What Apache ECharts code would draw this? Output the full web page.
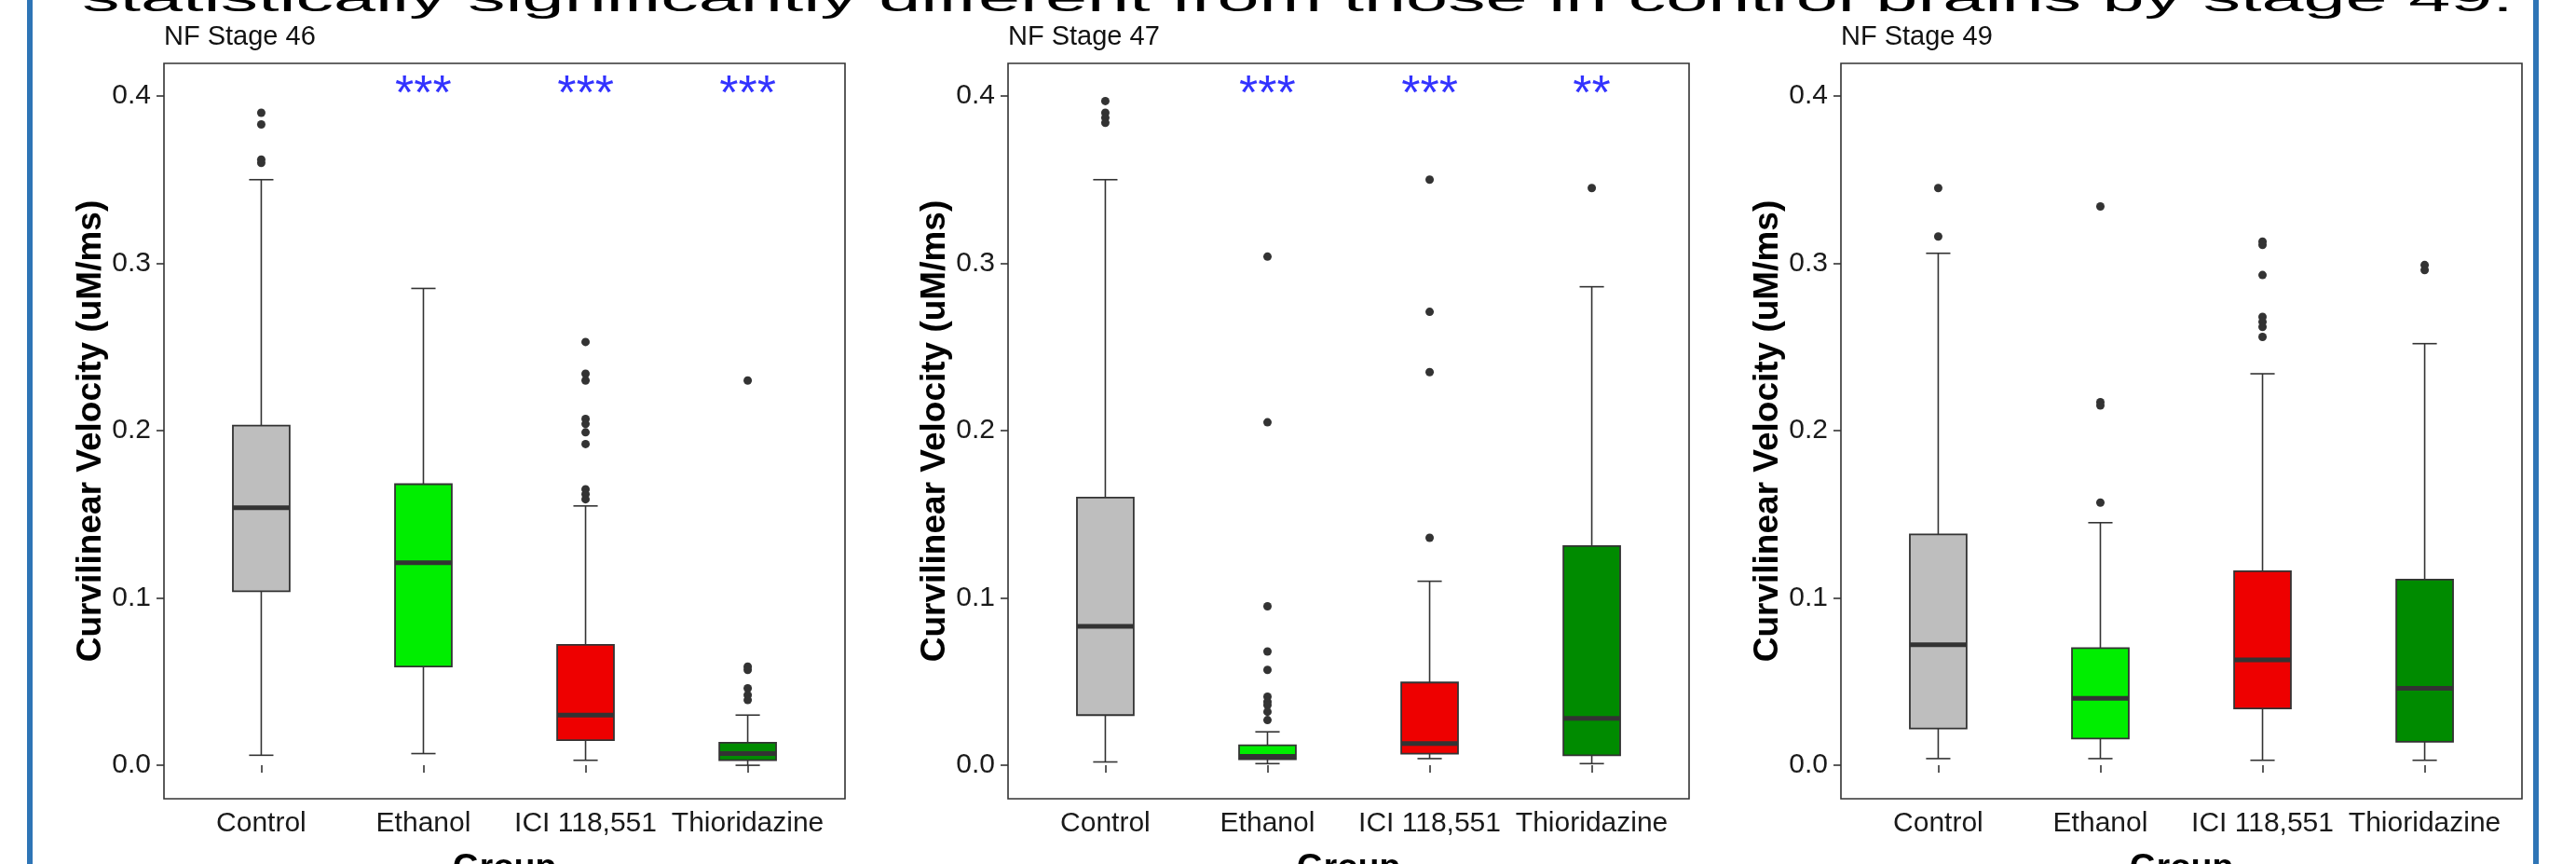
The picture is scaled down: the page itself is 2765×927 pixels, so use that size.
<!DOCTYPE html>
<html>
<head>
<meta charset="utf-8">
<script src="https://cdn.jsdelivr.net/npm/echarts@6/dist/echarts.min.js"></script>
<style>
  html, body { margin: 0; padding: 0; background: #fff; }
  #chart { width: 2765px; height: 927px; }
</style>
</head>
<body>
<div id="chart"></div>
<script>
const groups = ['Control', 'Ethanol', 'ICI 118,551', 'Thioridazine']
const groupColors = ['#bebebe', '#00ee00', '#ee0000', '#008b00']
const stageNames = ['NF Stage 46', 'NF Stage 47', 'NF Stage 49']
const yTicks = [0, 0.1, 0.2, 0.3, 0.4]
const xTicks = [1, 2, 3, 4]

// [lower whisker, Q1, median, Q3, upper whisker] per group
const stage46Boxes = [
  [0.006, 0.104, 0.154, 0.203, 0.350],
  [0.007, 0.059, 0.121, 0.168, 0.285],
  [0.003, 0.015, 0.030, 0.072, 0.155],
  [0.000, 0.003, 0.007, 0.0135, 0.030]
]
const stage46Outliers = [
  [0.390, 0.383, 0.362, 0.360],
  [],
  [0.253, 0.234, 0.230, 0.207, 0.204, 0.199, 0.192, 0.165, 0.162, 0.159],
  [0.230, 0.059, 0.057, 0.046, 0.042, 0.039]
]
const stage46Stars = ['', '***', '***', '***']

const stage47Boxes = [
  [0.002, 0.030, 0.083, 0.160, 0.350],
  [0.001, 0.0036, 0.0053, 0.012, 0.020],
  [0.004, 0.007, 0.013, 0.0495, 0.110],
  [0.001, 0.006, 0.028, 0.131, 0.286]
]
const stage47Outliers = [
  [0.397, 0.390, 0.387, 0.384],
  [0.304, 0.205, 0.095, 0.068, 0.057, 0.041, 0.038, 0.036, 0.032, 0.027],
  [0.350, 0.271, 0.235, 0.136],
  [0.345]
]
const stage47Stars = ['', '***', '***', '**']

const stage49Boxes = [
  [0.004, 0.022, 0.072, 0.138, 0.306],
  [0.004, 0.016, 0.040, 0.070, 0.145],
  [0.003, 0.034, 0.063, 0.116, 0.234],
  [0.003, 0.014, 0.046, 0.111, 0.252]
]
const stage49Outliers = [
  [0.345, 0.316],
  [0.334, 0.217, 0.215, 0.157],
  [0.313, 0.311, 0.293, 0.268, 0.265, 0.262, 0.256],
  [0.299, 0.296]
]
const stage49Stars = ['', '', '', '']

const stageBoxes = [stage46Boxes, stage47Boxes, stage49Boxes]
const stageOutliers = [stage46Outliers, stage47Outliers, stage49Outliers]
const stageStars = [stage46Stars, stage47Stars, stage49Stars]

const FONT = '"Liberation Sans", Arial, sans-serif'
const INK = '#333333'
const panelLefts = [176, 1082, 1976]
const panelWidth = 731

const chart = echarts.init(document.getElementById('chart'), null, { renderer: 'canvas' })

function renderBox(params, api) {
  const x = api.value(0)
  const lo = api.coord([x, api.value(1)])
  const q1 = api.coord([x, api.value(2)])
  const med = api.coord([x, api.value(3)])
  const q3 = api.coord([x, api.value(4)])
  const hi = api.coord([x, api.value(5)])
  const boxW = api.size([0.35, 0])[0]
  const capW = api.size([0.15, 0])[0]
  const cx = lo[0]
  const thin = { stroke: INK, lineWidth: 1.6 }
  return {
    type: 'group',
    children: [
      { type: 'line', shape: { x1: cx, y1: hi[1], x2: cx, y2: q3[1] }, style: thin },
      { type: 'line', shape: { x1: cx, y1: q1[1], x2: cx, y2: lo[1] }, style: thin },
      { type: 'line', shape: { x1: cx - capW / 2, y1: hi[1], x2: cx + capW / 2, y2: hi[1] }, style: thin },
      { type: 'line', shape: { x1: cx - capW / 2, y1: lo[1], x2: cx + capW / 2, y2: lo[1] }, style: thin },
      {
        type: 'rect',
        shape: { x: cx - boxW / 2, y: q3[1], width: boxW, height: q1[1] - q3[1] },
        style: { fill: api.visual('color'), stroke: INK, lineWidth: 1.8 }
      },
      { type: 'line', shape: { x1: cx - boxW / 2, y1: med[1], x2: cx + boxW / 2, y2: med[1] }, style: { stroke: INK, lineWidth: 5 } }
    ]
  }
}

const grids = [], xAxes = [], yAxes = [], titles = [], series = []

stageNames.forEach((stage, p) => {
  grids.push({
    left: panelLefts[p], top: 68, width: panelWidth, height: 789,
    outerBoundsMode: 'none', containLabel: false,
    show: true, borderColor: INK, borderWidth: 1.6, backgroundColor: 'transparent'
  })
  xAxes.push({
    gridIndex: p, type: 'value', min: 0.4, max: 4.6,
    axisLine: { show: false }, splitLine: { show: false },
    axisTick: { show: true, customValues: xTicks, length: 8, lineStyle: { color: INK, width: 1.6 } },
    axisLabel: {
      customValues: xTicks, formatter: v => groups[Math.round(v) - 1],
      fontSize: 30, color: '#1a1a1a', fontFamily: FONT, margin: 12
    },
    name: 'Group', nameLocation: 'middle', nameGap: 56,
    nameTextStyle: { fontSize: 37, fontWeight: 'bold', color: '#000', fontFamily: FONT }
  })
  yAxes.push({
    gridIndex: p, type: 'value', min: -0.02, max: 0.4195,
    axisLine: { show: false }, splitLine: { show: false },
    axisTick: { show: true, customValues: yTicks, length: 8, lineStyle: { color: INK, width: 1.6 } },
    axisLabel: {
      customValues: yTicks, formatter: v => v.toFixed(1),
      fontSize: 30, color: '#1a1a1a', fontFamily: FONT, margin: 14
    },
    name: 'Curvilinear Velocity (uM/ms)', nameLocation: 'middle', nameGap: 50,
    nameTextStyle: { fontSize: 37, fontWeight: 'bold', color: '#000', fontFamily: FONT }
  })
  titles.push({
    text: stage, left: panelLefts[p], top: 25, padding: 0,
    textStyle: { fontSize: 29, fontWeight: 'normal', color: '#111', fontFamily: FONT }
  })

  series.push({
    type: 'custom', xAxisIndex: p, yAxisIndex: p,
    renderItem: renderBox,
    encode: { x: 0, y: [1, 2, 3, 4, 5] },
    data: stageBoxes[p].map((b, i) => ({ value: [i + 1].concat(b), itemStyle: { color: groupColors[i] } })),
    silent: true
  })

  const pts = []
  stageOutliers[p].forEach((vals, i) => vals.forEach(v => pts.push([i + 1, v])))
  series.push({
    type: 'scatter', xAxisIndex: p, yAxisIndex: p,
    symbolSize: 9, itemStyle: { color: INK, opacity: 1 },
    data: pts, silent: true, z: 3
  })

  series.push({
    type: 'scatter', xAxisIndex: p, yAxisIndex: p,
    symbolSize: 1, itemStyle: { color: 'transparent' },
    label: {
      show: true, position: 'inside', formatter: d => d.name,
      fontSize: 52, color: '#0000ff', fontFamily: FONT
    },
    data: stageStars[p].map((s, i) => ({ name: s, value: [i + 1, 0.4] })).filter(d => d.name),
    silent: true, z: 4
  })
})

chart.setOption({
  animation: false,
  backgroundColor: '#fff',
  title: titles,
  grid: grids,
  xAxis: xAxes,
  yAxis: yAxes,
  series: series,
  graphic: [
    { type: 'rect', shape: { x: 29, y: 0, width: 6, height: 927 }, style: { fill: '#2e75b6' } },
    { type: 'rect', shape: { x: 2719, y: 0, width: 6, height: 927 }, style: { fill: '#2e75b6' } },
    {
      type: 'text', x: 88, y: 21, scaleY: 0.5,
      style: {
        text: 'statistically significantly different from those in control brains by stage 49.',
        font: '81px "Liberation Sans", Arial, sans-serif', fill: '#000',
        verticalAlign: 'bottom'
      }
    }
  ]
})
</script>
</body>
</html>
